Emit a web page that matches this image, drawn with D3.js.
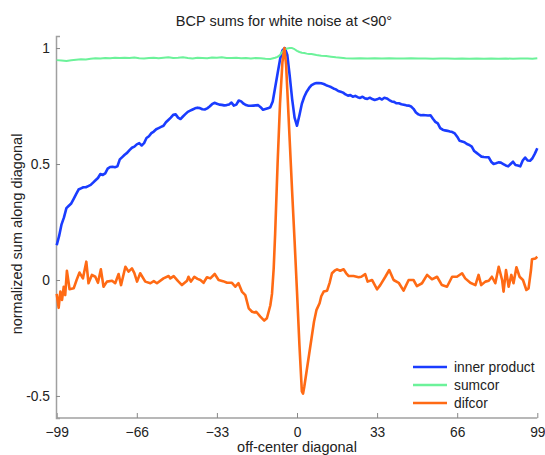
<!DOCTYPE html>
<html>
<head>
<meta charset="utf-8">
<script src="https://cdn.jsdelivr.net/npm/d3@7"></script>
<style>
  body { margin: 0; background: #fff; }
  text { font-family: "Liberation Sans", Arial, sans-serif; fill: #222; }
</style>
</head>
<body>
<div id="chart"></div>
<script>
// values, as [offset, value]
const innerProduct = [[-99,0.15],[-98,0.19],[-97,0.24],[-96,0.27],[-95,0.31],[-94,0.32],[-93,0.33],[-92,0.35],[-91,0.37],[-90,0.39],[-89,0.395],[-88,0.40],[-87,0.40],[-86,0.405],[-85,0.41],[-84,0.42],[-83,0.43],[-82,0.44],[-81,0.457],[-80,0.453],[-79,0.46],[-78,0.48],[-77,0.487],[-76,0.488],[-75,0.486],[-74,0.49],[-73,0.52],[-72,0.53],[-71,0.54],[-70,0.548],[-69,0.56],[-68,0.57],[-67,0.575],[-66,0.585],[-65,0.59],[-64,0.58],[-63,0.59],[-62,0.612],[-61,0.62],[-60,0.633],[-59,0.64],[-58,0.65],[-57,0.655],[-56,0.66],[-55,0.665],[-54,0.68],[-53,0.69],[-52,0.70],[-51,0.712],[-50,0.714],[-49,0.70],[-48,0.694],[-47,0.705],[-46,0.715],[-45,0.725],[-44,0.73],[-43,0.735],[-42,0.74],[-41,0.743],[-40,0.741],[-39,0.736],[-38,0.735],[-37,0.74],[-36,0.748],[-35,0.758],[-34,0.764],[-33,0.76],[-32,0.756],[-31,0.755],[-30,0.753],[-29,0.754],[-28,0.757],[-27,0.765],[-26,0.752],[-25,0.756],[-24,0.774],[-23,0.77],[-22,0.76],[-21,0.754],[-20,0.751],[-19,0.751],[-18,0.752],[-17,0.753],[-16,0.754],[-15,0.745],[-14,0.734],[-13,0.737],[-12,0.740],[-11,0.745],[-10,0.77],[-9,0.83],[-8,0.89],[-7,0.95],[-6,0.99],[-5,1.0],[-4,0.97],[-3,0.88],[-2,0.78],[-1,0.70],[0,0.665],[1,0.71],[2,0.76],[3,0.79],[4,0.812],[5,0.828],[6,0.84],[7,0.846],[8,0.849],[9,0.849],[10,0.848],[11,0.845],[12,0.84],[13,0.836],[14,0.832],[15,0.826],[16,0.822],[17,0.815],[18,0.812],[19,0.808],[20,0.80],[21,0.795],[22,0.797],[23,0.79],[24,0.794],[25,0.788],[26,0.785],[27,0.79],[28,0.783],[29,0.781],[30,0.786],[31,0.78],[32,0.776],[33,0.779],[34,0.784],[35,0.778],[36,0.786],[37,0.783],[38,0.776],[39,0.77],[40,0.768],[41,0.762],[42,0.762],[43,0.758],[44,0.756],[45,0.753],[46,0.752],[47,0.748],[48,0.738],[49,0.722],[50,0.714],[51,0.71],[52,0.711],[53,0.71],[54,0.709],[55,0.71],[56,0.695],[57,0.682],[58,0.675],[59,0.655],[60,0.648],[61,0.645],[62,0.643],[63,0.64],[64,0.638],[65,0.632],[66,0.618],[67,0.6],[68,0.597],[69,0.594],[70,0.586],[71,0.582],[72,0.575],[73,0.556],[74,0.548],[75,0.54],[76,0.532],[77,0.53],[78,0.529],[79,0.529],[80,0.51],[81,0.5],[82,0.503],[83,0.507],[84,0.506],[85,0.5],[86,0.494],[87,0.49],[88,0.5],[89,0.51],[90,0.496],[91,0.494],[92,0.49],[93,0.515],[94,0.528],[95,0.515],[96,0.514],[97,0.525],[98,0.545],[99,0.568]];

const sumcor = [[-99,0.948],[-97,0.946],[-95,0.944],[-93,0.947],[-91,0.95],[-89,0.952],[-87,0.951],[-85,0.954],[-83,0.956],[-81,0.955],[-79,0.957],[-77,0.956],[-75,0.958],[-73,0.957],[-71,0.958],[-69,0.957],[-67,0.959],[-65,0.956],[-63,0.955],[-61,0.957],[-59,0.958],[-57,0.956],[-55,0.958],[-53,0.96],[-51,0.957],[-49,0.958],[-47,0.96],[-45,0.957],[-43,0.955],[-41,0.958],[-39,0.957],[-37,0.956],[-35,0.959],[-33,0.958],[-31,0.96],[-29,0.957],[-27,0.957],[-25,0.958],[-23,0.956],[-21,0.957],[-19,0.955],[-17,0.957],[-15,0.956],[-13,0.954],[-11,0.953],[-9,0.958],[-8,0.962],[-7,0.97],[-6,0.985],[-5,0.995],[-4,0.998],[-3,1.0],[-2,1.0],[-1,0.995],[0,0.988],[1,0.983],[2,0.98],[3,0.979],[4,0.976],[5,0.974],[6,0.974],[8,0.97],[10,0.967],[12,0.966],[14,0.963],[16,0.96],[18,0.958],[20,0.956],[23,0.955],[26,0.956],[29,0.955],[32,0.956],[35,0.955],[38,0.956],[41,0.955],[44,0.955],[47,0.956],[50,0.955],[53,0.955],[56,0.954],[59,0.955],[62,0.955],[65,0.954],[68,0.955],[71,0.954],[74,0.955],[77,0.954],[80,0.955],[83,0.954],[86,0.955],[89,0.954],[92,0.955],[95,0.955],[97,0.954],[99,0.956]];

const difcor = [[-99,-0.06],[-98.2,-0.12],[-97.5,-0.05],[-96.8,-0.086],[-96.1,-0.029],[-95.5,-0.065],[-94.8,0.04],[-93.7,-0.04],[-92,-0.036],[-90.8,0.0],[-89.6,0.032],[-88.2,0.007],[-86.8,0.079],[-85.9,-0.014],[-84.5,0.022],[-83.1,0.014],[-82,-0.012],[-80.8,0.046],[-79.7,-0.029],[-78.3,-0.007],[-76.2,-0.003],[-74.9,-0.014],[-73.5,0.026],[-72.5,-0.022],[-70.7,0.057],[-69.4,0.036],[-68,0.05],[-67,0.03],[-65.9,-0.007],[-64.6,0.029],[-62.5,-0.007],[-60.4,-0.014],[-59,-0.005],[-57.7,-0.014],[-55,0.007],[-52.9,0.017],[-52.2,0.007],[-50.8,0.017],[-49,-0.005],[-47.4,-0.022],[-45.3,-0.003],[-44.7,0.014],[-43.7,-0.007],[-42.3,0.014],[-41,0.005],[-39.8,0],[-38.5,-0.012],[-37.1,0.012],[-35.7,0.007],[-33.9,0.026],[-32.3,0],[-30.5,-0.005],[-28.8,-0.012],[-26.8,-0.012],[-25.4,-0.029],[-24.1,-0.014],[-22.7,-0.05],[-21.3,-0.065],[-19.9,-0.122],[-18.5,-0.137],[-17.5,-0.14],[-16.8,-0.137],[-15.1,-0.158],[-13.5,-0.175],[-12.4,-0.165],[-11,-0.11],[-10.3,-0.06],[-9.6,0.05],[-9,0.2],[-8,0.5],[-7,0.76],[-6,0.94],[-5.2,1.0],[-4.5,0.93],[-4,0.82],[-3,0.6],[-2,0.38],[-1,0.17],[0,-0.05],[1,-0.28],[2,-0.48],[2.5,-0.49],[3,-0.46],[4,-0.39],[5,-0.32],[6,-0.25],[7,-0.18],[8,-0.13],[9.3,-0.1],[10,-0.07],[11,-0.05],[12.4,-0.046],[13.5,-0.01],[14.4,0.029],[15.5,0.04],[16.5,0.046],[17.8,0.04],[19.2,0.046],[20.2,0.03],[21.3,0.017],[23.3,0.017],[25.4,0.012],[26.5,0.014],[28.1,0.025],[29.1,-0.007],[30.9,0],[33,-0.04],[34.3,-0.022],[36.4,0.014],[38,0.043],[39.8,0],[41.9,-0.012],[43.9,-0.046],[46,0],[48,0],[49.4,-0.026],[51.5,-0.014],[53.6,0.022],[55.6,0.003],[57.7,0.014],[59.7,-0.022],[61.8,-0.029],[63.9,0.014],[65.9,0.014],[68,0.029],[69.3,0.007],[71.4,-0.012],[73.5,-0.022],[74.8,0.022],[75.9,-0.022],[77.6,-0.007],[79,-0.003],[80.3,0.014],[81.7,-0.014],[83.1,0.057],[84.5,0],[85.1,-0.05],[86.1,0.043],[87.2,-0.029],[88.3,0.022],[89.2,-0.014],[90.4,0.055],[91.7,0.014],[93.1,0],[94.5,-0.043],[95.4,-0.036],[96.4,0.043],[96.8,0.089],[98.2,0.093],[99,0.1]];

const xTicks = [-99, -66, -33, 0, 33, 66, 99];
const yTicks = [-0.5, 0, 0.5, 1];
const seriesNames = ['inner product', 'sumcor', 'difcor'];
const seriesColors = ['#1a3cff', '#6cf29a', '#ff6a14'];

const W = 545, H = 455;
const svg = d3.select('#chart').append('svg').attr('width', W).attr('height', H);

const x = d3.scaleLinear().domain([-99, 99]).range([56.7, 537.3]);
const y = d3.scaleLinear().domain([-0.595, 1.052]).range([418, 36]);

// axes (ticks drawn inward, gray like matlab)
const ax = svg.append('g').attr('transform', 'translate(0,418)')
  .call(d3.axisBottom(x).tickValues(xTicks).tickSize(-5).tickPadding(9).tickFormat(d3.format('d')));
const ay = svg.append('g').attr('transform', 'translate(56,0)')
  .call(d3.axisLeft(y).tickValues(yTicks).tickSize(-4).tickPadding(6).tickFormat(d => d));
[ax, ay].forEach(a => {
  a.select('.domain').attr('stroke', '#a0a0a0').attr('stroke-width', 1.5);
  a.selectAll('.tick line').attr('stroke', '#888');
  a.selectAll('.tick text').attr('font-size', 13.8).attr('fill', '#222')
    .style('font-family', '"Liberation Sans", Arial, sans-serif');
});
ax.select('.domain').attr('d', 'M56,0H537.3');

const line = d3.line().x(d => x(d[0])).y(d => y(d[1])).curve(d3.curveLinear);
[innerProduct, sumcor, difcor].forEach((s, i) => {
  svg.append('path').datum(s)
    .attr('fill', 'none')
    .attr('stroke', seriesColors[i])
    .attr('stroke-width', i === 1 ? 2 : 2.6)
    .attr('stroke-linejoin', 'round')
    .attr('d', line);
});

// title and axis labels
svg.append('text').attr('x', 284).attr('y', 26).attr('text-anchor', 'middle')
  .attr('font-size', 14.5).text('BCP sums for white noise at <90°');
svg.append('text').attr('x', 297).attr('y', 452).attr('text-anchor', 'middle')
  .attr('font-size', 14.5).text('off-center diagonal');
svg.append('text').attr('transform', 'rotate(-90)').attr('x', -234).attr('y', 22)
  .attr('text-anchor', 'middle').attr('font-size', 14.5).text('normalized sum along diagonal');

// legend
const lg = svg.append('g').attr('transform', 'translate(413,367)');
seriesNames.forEach((n, i) => {
  const row = lg.append('g').attr('transform', `translate(0,${i * 18})`);
  row.append('line').attr('x1', 0).attr('x2', 34).attr('y1', 0).attr('y2', 0)
    .attr('stroke', seriesColors[i]).attr('stroke-width', 2.6);
  row.append('text').attr('x', 41).attr('y', 5).attr('font-size', 13.8).text(n);
});
</script>
</body>
</html>
